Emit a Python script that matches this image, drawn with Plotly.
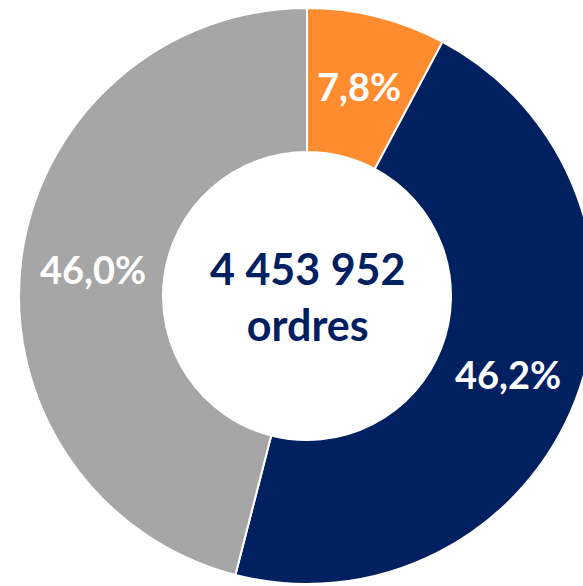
import math
import plotly.graph_objects as go

categories = ["Orange", "Bleu", "Gris"]
shares = [7.8, 46.2, 46.0]
colors = ["#FF8C2E", "#002060", "#A6A6A6"]
total_orders = 4453952
unit_label = "ordres"

W, H = 596, 586
cx, cy, r = 307, 296, 288
hole = 0.5

total_txt = f"{total_orders:,}".replace(",", " ")

fig = go.Figure(go.Pie(
    labels=categories,
    values=shares,
    sort=False,
    direction="clockwise",
    rotation=0,
    hole=hole,
    marker=dict(colors=colors, line=dict(color="white", width=2)),
    textinfo="none",
    showlegend=False,
    hoverinfo="label+percent",
    domain=dict(x=[(cx - r) / W, (cx + r) / W], y=[(H - cy - r) / H, (H - cy + r) / H]),
))

# percentage labels placed at the middle of each ring segment
tot = sum(shares)
start = 0.0
rmid = r * (1 + hole) / 2
for v in shares:
    mid = (start + v / 2) / tot * 2 * math.pi
    start += v
    px = cx + rmid * math.sin(mid)
    py = cy - rmid * math.cos(mid)
    lbl = f"{v / tot * 100:.1f}%".replace(".", ",")
    fig.add_annotation(
        x=px / W, y=1 - py / H, xref="paper", yref="paper",
        text=lbl, showarrow=False,
        font=dict(family="Lato", size=38, color="white", weight="bold"),
        xanchor="center", yanchor="middle",
    )

fig.add_annotation(
    x=cx / W, y=1 - cy / H, xref="paper", yref="paper",
    text=f"{total_txt}<br>{unit_label}",
    showarrow=False,
    font=dict(family="Lato", size=43, color="#002060", weight="bold"),
    xanchor="center", yanchor="middle",
)

fig.update_layout(
    width=W, height=H,
    margin=dict(l=0, r=0, t=0, b=0),
    paper_bgcolor="white",
    plot_bgcolor="white",
    separators=", ",
)

fig.write_html(
    "out.html",
    config={"displayModeBar": False},
    post_script="document.body.style.margin='0';document.body.style.overflow='hidden';",
)
